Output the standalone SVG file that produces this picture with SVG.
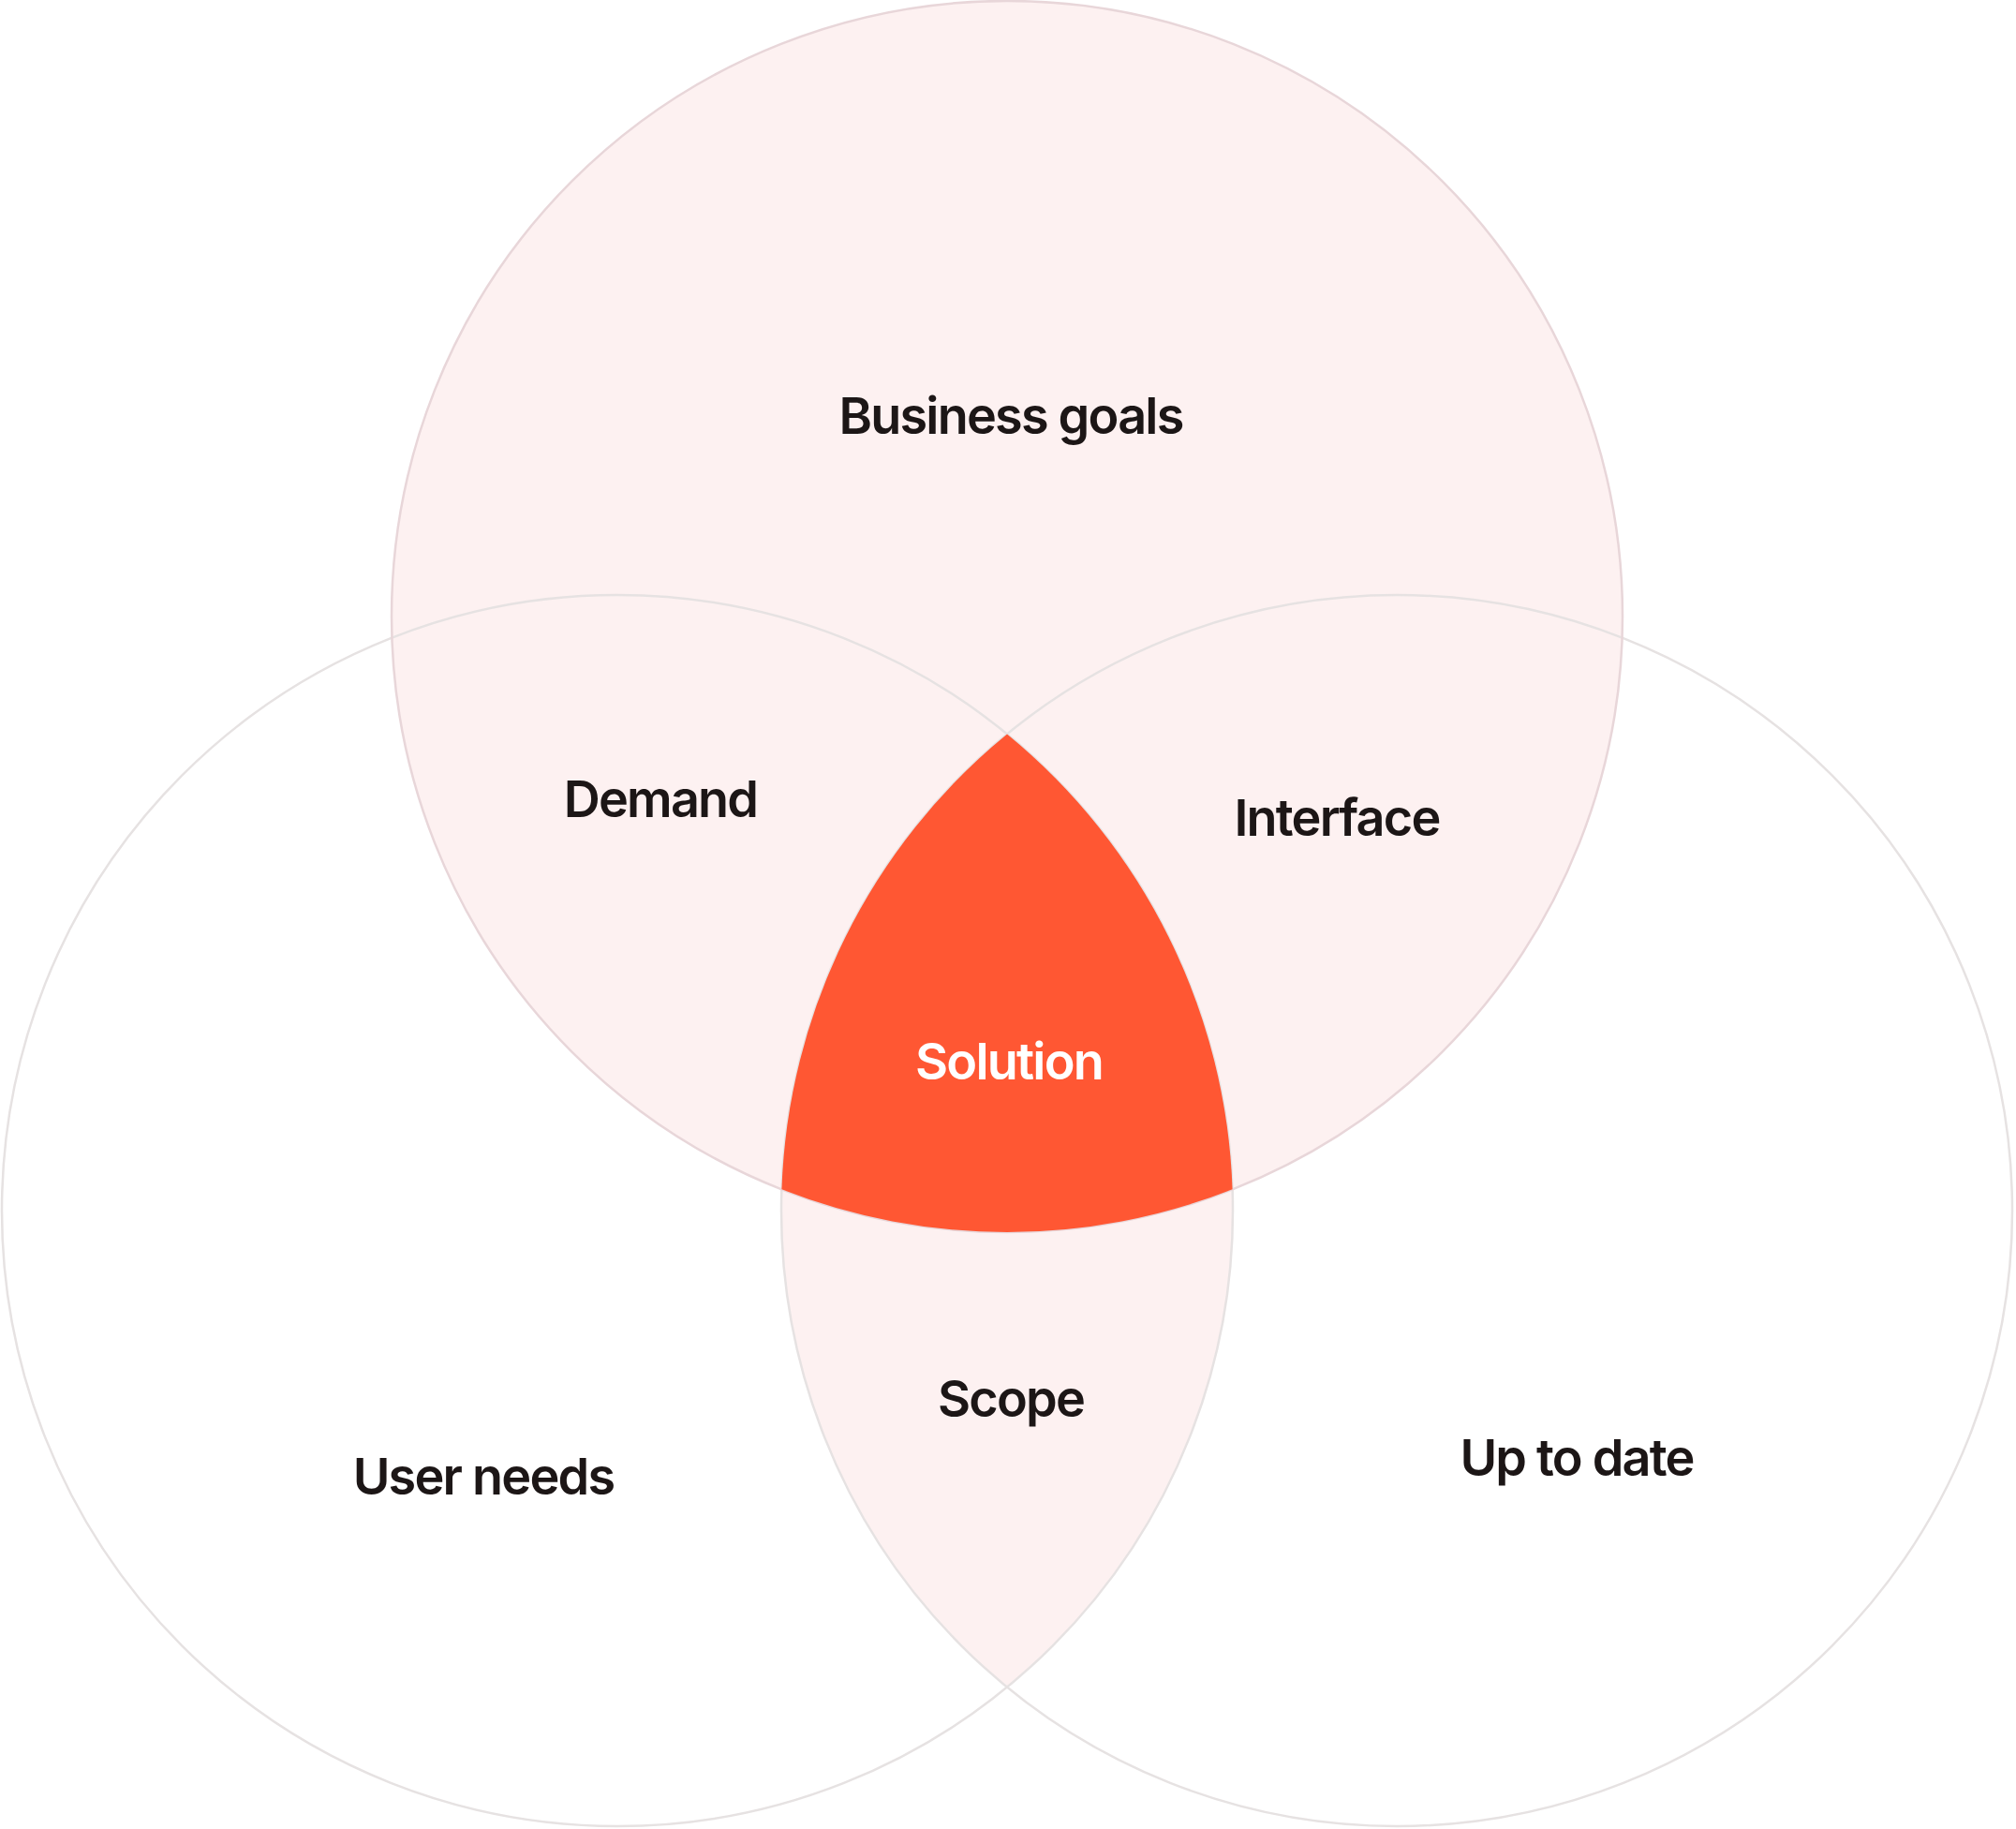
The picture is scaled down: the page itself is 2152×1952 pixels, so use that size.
<svg xmlns="http://www.w3.org/2000/svg" width="2152" height="1952" viewBox="0 0 2152 1952">
  <style>
    .lbl { font-family: Inter, "Noto Sans", "Liberation Sans", sans-serif; font-weight: 600; font-size: 54px; fill: #1c1616; text-anchor: middle; letter-spacing: -1.8px; }
    .white { fill: #ffffff; }
    .ring { fill: none; stroke-width: 2.5; }
    .gray { stroke: #e6e2e2; }
    .pinkline { stroke: #e8d6d9; }
    .pinkfill { fill: #fdf1f1; }
  </style>
  <rect width="2152" height="1952" fill="#ffffff"/>
  <g id="circle-user-needs">
    <circle cx="659" cy="1292" r="657" fill="#ffffff"/>
  </g>
  <g id="circle-up-to-date">
    <circle cx="1491" cy="1292" r="657" fill="#ffffff"/>
  </g>
  <g id="circle-business-goals">
    <circle cx="1075" cy="658" r="657" class="pinkfill"/>
  </g>
  <g id="region-scope">
    <path class="pinkfill" d="M 1075 783.5 A 657 657 0 0 0 1075 1800.5 A 657 657 0 0 0 1075 783.5 Z"/>
  </g>
  <g id="outlines">
    <circle cx="659" cy="1292" r="657" class="ring gray"/>
    <circle cx="1491" cy="1292" r="657" class="ring gray"/>
    <circle cx="1075" cy="658" r="657" class="ring pinkline"/>
  </g>
  <g id="region-solution">
    <path fill="#ff5733" d="M 1075 783.5 A 657 657 0 0 0 834.4 1269.3 A 657 657 0 0 0 1315.6 1269.3 A 657 657 0 0 0 1075 783.5 Z"/>
  </g>
  <g id="labels">
    <text class="lbl" x="1079" y="463">Business goals</text>
    <text class="lbl" x="705" y="872">Demand</text>
    <text class="lbl" x="1427" y="892">Interface</text>
    <text class="lbl white" x="1077" y="1152">Solution</text>
    <text class="lbl" x="1079" y="1512">Scope</text>
    <text class="lbl" x="516" y="1595">User needs</text>
    <text class="lbl" x="1683" y="1575">Up to date</text>
  </g>
</svg>
